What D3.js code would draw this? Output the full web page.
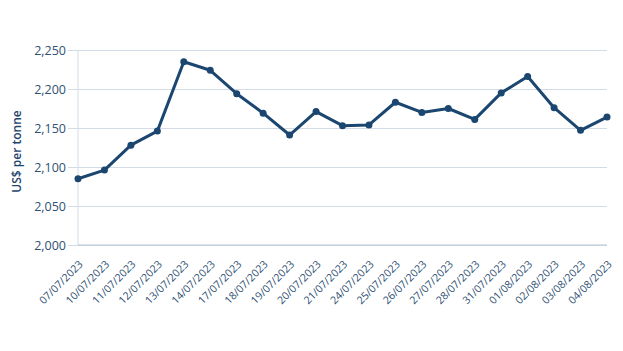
<!DOCTYPE html>
<html><head><meta charset="utf-8">
<script src="https://cdn.jsdelivr.net/npm/d3@7/dist/d3.min.js"></script>
<style>
body{margin:0;background:#fff;}
svg{display:block;font-family:"Open Sans",sans-serif;}
</style></head><body>
<svg id="c" width="623" height="351"></svg>
<script>
const dates = ["07/07/2023","10/07/2023","11/07/2023","12/07/2023","13/07/2023","14/07/2023","17/07/2023","18/07/2023","19/07/2023","20/07/2023","21/07/2023","24/07/2023","25/07/2023","26/07/2023","27/07/2023","28/07/2023","31/07/2023","01/08/2023","02/08/2023","03/08/2023","04/08/2023"];
const prices = [2085,2096,2128,2146,2235,2224,2194,2169,2141,2171,2153,2154,2183,2170,2175,2161,2195,2216,2176,2147,2164];
const yTicks = [2000,2050,2100,2150,2200,2250];
const yLabel = "US$ per tonne";

const svg = d3.select("#c");
const L = 78, R = 607, T = 50, B = 245;
const x = d3.scalePoint().domain(dates).range([L, R]);
const y = d3.scaleLinear().domain([2000, 2250]).range([B, T]);
const textCol = "#2e5073", gridCol = "#d3dce6", lineCol = "#1b4670";

// grid
const gy = svg.append("g").attr("transform", `translate(${L},0)`)
  .call(d3.axisLeft(y).tickValues(yTicks).tickFormat(d3.format(",")).tickSize(-(R - L)).tickPadding(12));
gy.select(".domain").remove();
gy.selectAll(".tick line").attr("stroke", gridCol).attr("x1", -10);
gy.selectAll(".tick text").attr("fill", textCol).attr("font-size", 12.5).attr("font-family", "Open Sans");

// left axis line
svg.append("line").attr("x1", L).attr("x2", L).attr("y1", T).attr("y2", B).attr("stroke", gridCol);
// bottom axis
svg.append("line").attr("x1", L).attr("x2", R).attr("y1", B).attr("y2", B).attr("stroke", "#b8c3cf");

// x labels
const gx = svg.append("g").attr("transform", `translate(0,${B})`)
  .call(d3.axisBottom(x).tickSize(0).tickPadding(0));
gx.select(".domain").remove();
gx.selectAll(".tick text")
  .attr("fill", textCol).attr("font-size", 10.6).attr("font-family", "Open Sans")
  .attr("text-anchor", "end").attr("dy", 0).attr("y", 0)
  .attr("transform", "translate(5,20) rotate(-45)");

// line
svg.append("path").datum(prices.map((v, i) => [dates[i], v]))
  .attr("fill", "none").attr("stroke", lineCol).attr("stroke-width", 3).attr("stroke-linejoin", "round")
  .attr("d", d3.line().x(d => x(d[0])).y(d => y(d[1])));
svg.append("g").selectAll("circle").data(prices).join("circle")
  .attr("cx", (d, i) => x(dates[i])).attr("cy", d => y(d)).attr("r", 3.5).attr("fill", lineCol);

// y label
svg.append("text").attr("transform", `translate(21,${(T + B) / 2 + 4}) rotate(-90)`)
  .attr("text-anchor", "middle").attr("fill", "#1e466d").attr("font-size", 12).attr("font-weight", 600)
  .attr("font-family", "Open Sans").text(yLabel);
</script></body></html>
